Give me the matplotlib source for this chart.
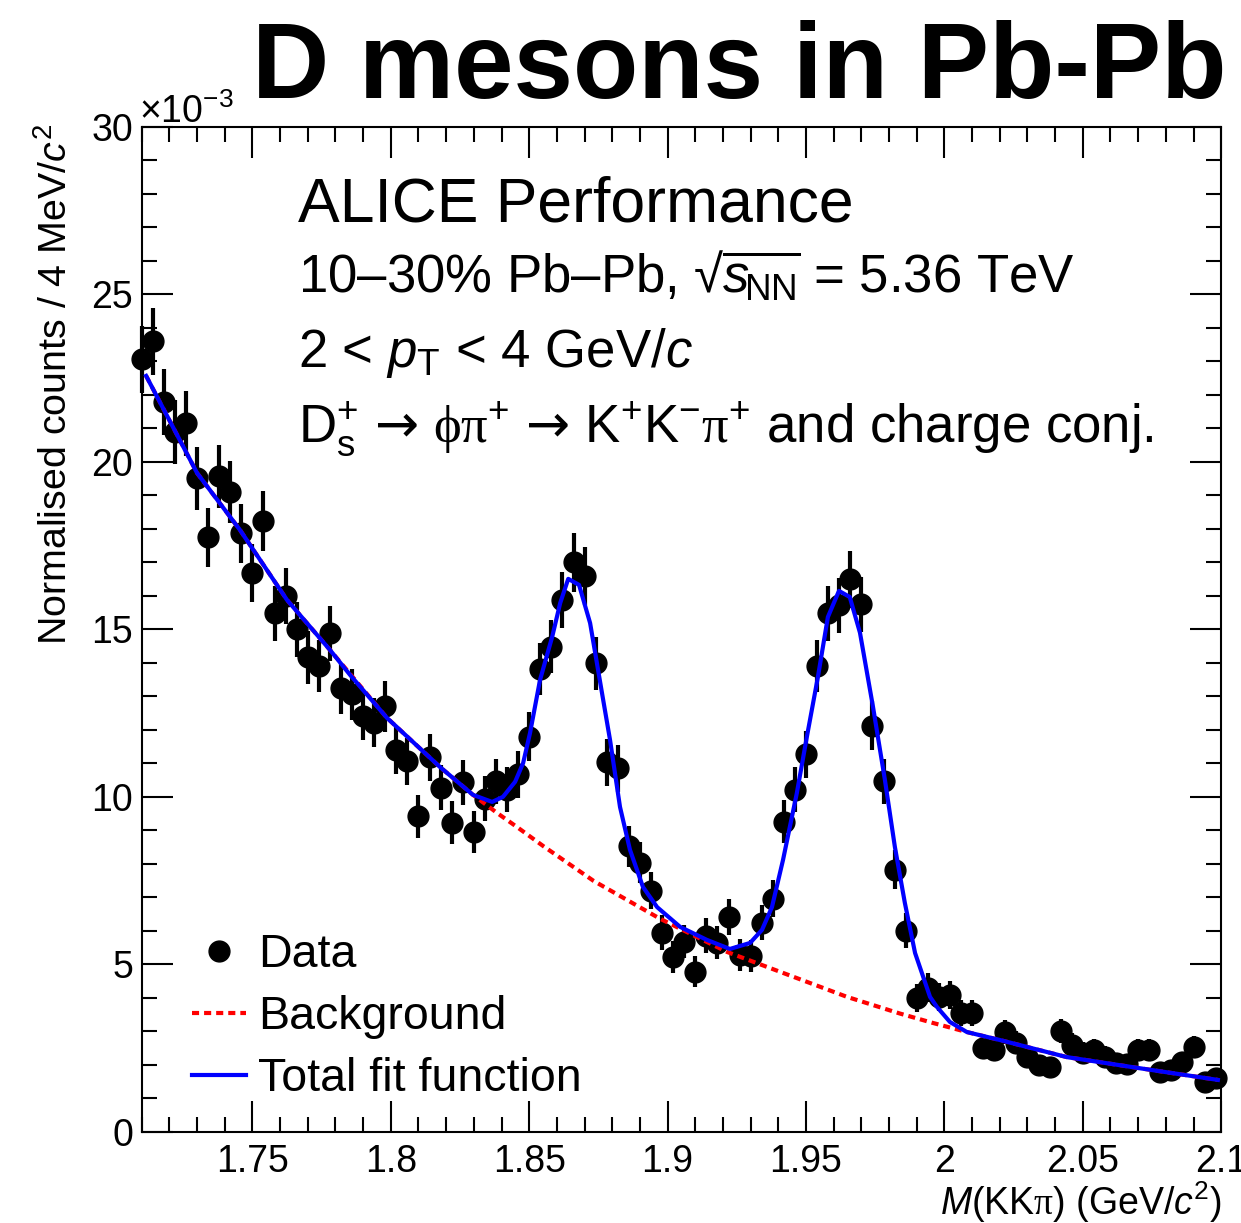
import numpy as np
import matplotlib
matplotlib.use('Agg')
import matplotlib.pyplot as plt
from matplotlib.lines import Line2D
from matplotlib.ticker import MultipleLocator, FormatStrFormatter

plt.rcParams['font.family'] = ['Liberation Sans', 'DejaVu Sans']
plt.rcParams['mathtext.fontset'] = 'custom'
plt.rcParams['mathtext.rm'] = 'Liberation Sans'
plt.rcParams['mathtext.it'] = 'Liberation Sans:italic'
plt.rcParams['mathtext.bf'] = 'Liberation Sans:bold'
plt.rcParams['mathtext.sf'] = 'Liberation Serif'
plt.rcParams['mathtext.cal'] = 'DejaVu Sans'

# invariant mass histogram, 4 MeV bins, counts in units of 1e-3
first_centre = 1.710
bin_width = 0.004
counts = [
    23.06, 23.60, 21.78, 20.88, 21.15, 19.50, 17.74, 19.56, 19.09, 17.86,
    16.67, 18.22, 15.47, 15.98, 14.99, 14.16, 13.89, 14.87, 13.23, 13.05,
    12.42, 12.21, 12.69, 11.38, 11.05, 9.41, 11.17, 10.27, 9.22, 10.42,
    8.95, 9.94, 10.45, 10.21, 10.66, 11.79, 13.80, 14.48, 15.86, 16.99,
    16.58, 13.98, 11.03, 10.84, 8.51, 8.03, 7.19, 5.94, 5.22, 5.67,
    4.77, 5.85, 5.64, 6.41, 5.28, 5.25, 6.23, 6.95, 9.25, 10.21,
    11.26, 13.89, 15.47, 15.71, 16.49, 15.74, 12.12, 10.45, 7.82, 6.00,
    3.99, 4.29, 4.02, 4.08, 3.54, 3.54, 2.50, 2.44, 2.97, 2.65,
    2.23, 1.99, 1.93, 3.00, 2.59, 2.35, 2.44, 2.23, 2.05, 2.02,
    2.44, 2.44, 1.78, 1.84, 2.08, 2.53, 1.48, 1.60,
]
errors = [
    1.00, 1.00, 0.98, 0.96, 0.97, 0.93, 0.88, 0.93, 0.92, 0.89,
    0.86, 0.90, 0.83, 0.84, 0.81, 0.79, 0.78, 0.81, 0.76, 0.76,
    0.74, 0.73, 0.75, 0.71, 0.70, 0.65, 0.70, 0.67, 0.64, 0.68,
    0.63, 0.66, 0.68, 0.67, 0.69, 0.72, 0.78, 0.80, 0.84, 0.87,
    0.86, 0.79, 0.70, 0.69, 0.61, 0.60, 0.56, 0.51, 0.48, 0.50,
    0.46, 0.51, 0.50, 0.53, 0.48, 0.48, 0.52, 0.55, 0.64, 0.67,
    0.70, 0.78, 0.83, 0.83, 0.85, 0.83, 0.73, 0.68, 0.59, 0.51,
    0.42, 0.43, 0.42, 0.42, 0.40, 0.40, 0.33, 0.33, 0.36, 0.34,
    0.31, 0.30, 0.29, 0.36, 0.34, 0.32, 0.33, 0.31, 0.30, 0.30,
    0.33, 0.33, 0.28, 0.28, 0.30, 0.33, 0.26, 0.27,
]
mass = first_centre + bin_width * np.arange(len(counts))

# total fit function
fit_mass = [1.7116, 1.7300, 1.7455, 1.7625, 1.7780, 1.7853, 1.7986, 1.8178, 1.8297, 1.8366,
            1.8405, 1.8449, 1.8478, 1.8503, 1.8539, 1.8583, 1.8612, 1.8641, 1.8680, 1.8720,
            1.8763, 1.8792, 1.8828, 1.8864, 1.8911, 1.8962, 1.9045, 1.9142, 1.9225, 1.9298,
            1.9341, 1.9377, 1.9417, 1.9467, 1.9503, 1.9543, 1.9579, 1.9619, 1.9658, 1.9695,
            1.9742, 1.9785, 1.9821, 1.9857, 1.9894, 1.9948, 1.9973, 2.0020, 2.0081, 2.0201,
            2.0443, 2.0681, 2.0988]
fit_total = [22.56, 19.66, 17.96, 15.87, 14.38, 13.63, 12.35, 10.88, 10.05, 9.84,
             9.99, 10.44, 11.00, 11.90, 13.48, 14.77, 15.78, 16.50, 16.32, 15.18,
             13.09, 11.69, 9.69, 8.41, 7.30, 6.70, 6.11, 5.72, 5.45, 5.63,
             6.02, 6.70, 8.11, 10.11, 11.78, 13.57, 15.36, 16.14, 15.96, 14.89,
             12.68, 10.50, 8.50, 6.83, 5.33, 4.02, 3.72, 3.27, 2.97, 2.73,
             2.22, 1.92, 1.54]

# background component
bkg_mass = [1.7116, 1.7300, 1.7455, 1.7625, 1.7780, 1.7986, 1.8178, 1.8297, 1.8384, 1.8456,
            1.8551, 1.8733, 1.8971, 1.9215, 1.9648, 1.9840, 1.9959, 2.0081, 2.0201, 2.0443,
            2.0681, 2.0988]
bkg = [22.56, 19.66, 17.96, 15.87, 14.38, 12.35, 10.88, 10.05, 9.51, 9.09,
       8.52, 7.48, 6.36, 5.36, 4.02, 3.52, 3.24, 2.97, 2.73, 2.22,
       1.92, 1.54]

W, H = 1241, 1223
fig = plt.figure(figsize=(W / 100, H / 100), dpi=100)
ax = fig.add_axes([141.7 / W, 91.5 / H, 1079.5 / W, 1004.8 / H])

ax.errorbar(mass, counts, yerr=errors, fmt='o', color='black', ms=15,
            elinewidth=3, capsize=0, clip_on=False, zorder=2)
ax.plot(bkg_mass, bkg, color='red', lw=3, ls=(0, (1.7, 1.2)), zorder=3)
ax.plot(fit_mass, fit_total, color='blue', lw=3, zorder=4)

ax.set_xlim(1.71, 2.1)
ax.set_ylim(0, 30)
ax.xaxis.set_major_locator(MultipleLocator(0.05))
ax.xaxis.set_minor_locator(MultipleLocator(0.01))
ax.yaxis.set_major_locator(MultipleLocator(5))
ax.yaxis.set_minor_locator(MultipleLocator(1))
ax.xaxis.set_major_formatter(FormatStrFormatter('%g'))
ax.yaxis.set_major_formatter(FormatStrFormatter('%g'))
ax.tick_params(which='both', direction='in', top=True, right=True, width=1.5, labelsize=27)
ax.tick_params(which='major', length=22)
ax.tick_params(which='minor', length=11)
ax.tick_params(axis='x', pad=9)
ax.tick_params(axis='y', pad=6)
for s in ax.spines.values():
    s.set_linewidth(1.5)

fig.text(139 / W, 1 - 123 / H, r'×10$^{-3}$', fontsize=27, va='baseline', ha='left')
fig.text(56 / W, 1 - 124 / H, r'Normalised counts / 4 MeV/$c^{2}$', fontsize=28.4,
         rotation=90, ha='center', va='top')
fig.text(1222 / W, 1 - 1215 / H, r'$M$(KK$\mathsf{π}$) (GeV/$c^{2}$)', fontsize=27,
         ha='right', va='baseline')

fig.text(1226 / W, 1 - 98 / H, 'D mesons in Pb-Pb', fontsize=77, weight='bold',
         ha='right', va='baseline')

tx = 298 / W
fig.text(tx, 1 - 221.7 / H, 'ALICE Performance', fontsize=45, va='baseline')
fig.text(tx, 1 - 292 / H, r'10–30% Pb–Pb, √$\overline{s_{\!\mathrm{NN}}}$ = 5.36 TeV',
         fontsize=38, va='baseline')
fig.text(tx, 1 - 367 / H, r'2 < $p_{\mathrm{T}}$ < 4 GeV/$c$', fontsize=38, va='baseline')
fig.text(tx, 1 - 442 / H,
         r'$\mathrm{D}_{\mathrm{s}}^{+}\ \mathcal{→}\ \mathsf{ϕπ}^{+}\ \mathcal{→}\ '
         r'\mathrm{K}^{+}\mathrm{K}^{-}\mathsf{π}^{+}$ and charge conj.',
         fontsize=38, va='baseline')

handles = [
    Line2D([], [], marker='o', ls='none', color='black', ms=15),
    Line2D([], [], color='red', lw=3, ls=(0, (1.7, 1.2))),
    Line2D([], [], color='blue', lw=3),
]
ax.legend(handles, ['Data', 'Background', 'Total fit function'], loc='upper left',
          bbox_to_anchor=(192 / W, 1 - 933 / H), bbox_transform=fig.transFigure,
          frameon=False, fontsize=33.5, handlelength=1.16, handletextpad=0.26,
          labelspacing=0.39, borderpad=0, borderaxespad=0)

fig.savefig('out.png', dpi=100)
